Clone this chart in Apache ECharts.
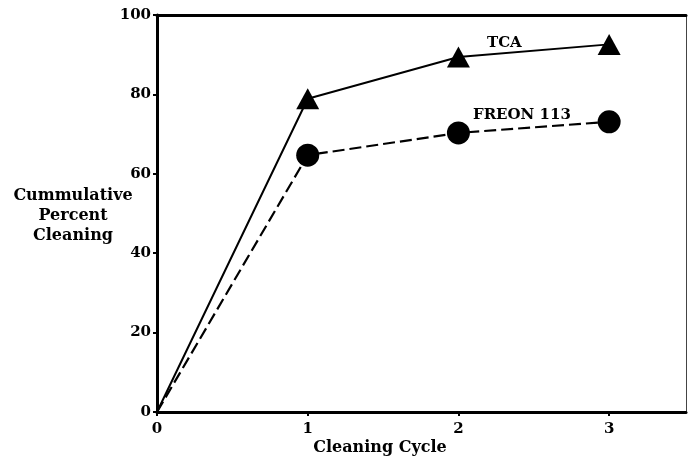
<!DOCTYPE html>
<html><head><meta charset="utf-8">
<script src="https://cdn.jsdelivr.net/npm/echarts@6/dist/echarts.min.js"></script>
<style>html,body{margin:0;padding:0;background:#fff}#c{width:689px;height:461px}</style>
</head><body><div id="c"></div>
<script>
const cycles = [0, 1, 2, 3];
const tcaValues = [0, 78.9, 89.4, 92.6];
const freonValues = [0, 64.7, 70.3, 73.1];
const yTicks = [0, 20, 40, 60, 80, 100];
const xTicks = [0, 1, 2, 3];
const seriesNames = ['TCA', 'FREON 113'];
const yTitle = ['Cummulative', 'Percent', 'Cleaning'];
const xTitle = 'Cleaning Cycle';

const F = '"DejaVu Serif", "Liberation Serif", serif';
function pts(vals){
  return cycles.map((c,i)=> i===0 ? {value:[c, vals[i]], symbol:'none'} : {value:[c, vals[i]]});
}
const chart = echarts.init(document.getElementById('c'));
chart.setOption({
  animation:false,
  backgroundColor:'#fff',
  grid:{left:157, right:3, top:15, bottom:49},
  xAxis:[{
    type:'value', min:0, max:3.51, interval:1,
    axisLine:{show:true, onZero:false, lineStyle:{color:'#000', width:3}},
    axisTick:{show:true, inside:false, length:4, lineStyle:{color:'#000', width:2}},
    axisLabel:{color:'#000', fontFamily:F, fontWeight:'bold', fontSize:15, margin:10,
      showMaxLabel:false,
      formatter:v=> xTicks.indexOf(v)>=0 ? String(v) : ''},
    splitLine:{show:false}
  },{
    type:'value', min:0, max:3.51, position:'top',
    axisLine:{show:true, onZero:false, lineStyle:{color:'#000', width:3}},
    axisTick:{show:false}, axisLabel:{show:false}, splitLine:{show:false}
  }],
  yAxis:[{
    type:'value', min:0, max:100, interval:20,
    axisLine:{show:true, onZero:false, lineStyle:{color:'#000', width:3}},
    axisTick:{show:true, length:4, lineStyle:{color:'#000', width:2}},
    axisLabel:{color:'#000', fontFamily:F, fontWeight:'bold', fontSize:15, margin:6,
      formatter:v=> yTicks.indexOf(v)>=0 ? String(v) : ''},
    splitLine:{show:false}
  },{
    type:'value', min:0, max:100, position:'right',
    axisLine:{show:true, onZero:false, lineStyle:{color:'#444', width:1}},
    axisTick:{show:false}, axisLabel:{show:false}, splitLine:{show:false}
  }],
  series:[{
    name:seriesNames[0], type:'line', data:pts(tcaValues),
    symbol:'triangle', symbolSize:[23,21],
    itemStyle:{color:'#000'}, lineStyle:{color:'#000', width:2, type:'solid'}
  },{
    name:seriesNames[1], type:'line', data:pts(freonValues),
    symbol:'circle', symbolSize:23,
    itemStyle:{color:'#000'}, lineStyle:{color:'#000', width:2.2, type:[12,5]}
  }],
  graphic:[
    {type:'text', x:487, y:43, style:{text:seriesNames[0], font:'bold 15px '+F, fill:'#000', verticalAlign:'middle'}},
    {type:'text', x:473, y:115, style:{text:seriesNames[1], font:'bold 15px '+F, fill:'#000', verticalAlign:'middle'}},
    {type:'text', x:73, y:186, style:{text:yTitle.join('\n'), font:'bold 16px '+F, fill:'#000', align:'center', lineHeight:20}},
    {type:'text', x:380, y:448, style:{text:xTitle, font:'bold 16px '+F, fill:'#000', align:'center', verticalAlign:'middle'}}
  ]
});
</script></body></html>
